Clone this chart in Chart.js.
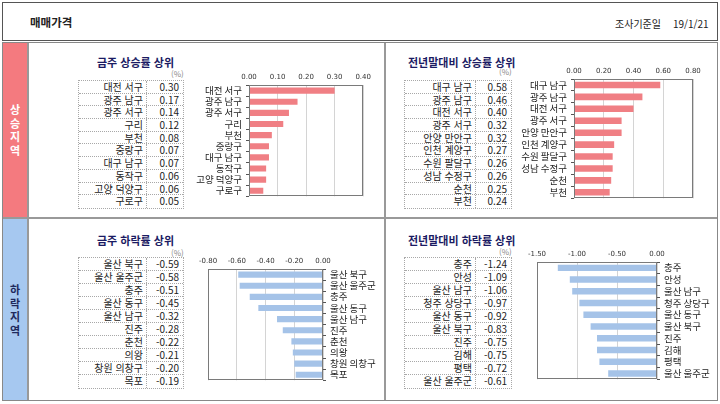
<!DOCTYPE html>
<html lang="ko">
<head>
<meta charset="UTF-8">
<title>매매가격</title>
<script src="https://cdn.jsdelivr.net/npm/chart.js"></script>
<style>
  body { margin: 0; background: #fff; font-family: "Noto Sans CJK KR", sans-serif; color: #222; }
  #page { position: relative; width: 720px; height: 404px; overflow: hidden; background: #fff; }
  .abs { position: absolute; }
  .box { position: absolute; box-sizing: border-box; }
  .title { position: absolute; font-weight: bold; font-size: 11px; color: #1b1b63; line-height: 14px; white-space: nowrap; }
  .unit { position: absolute; font-size: 8px; color: #888; line-height: 10px; }
  .side { position: absolute; width: 24px; text-align: center; font-weight: bold; font-size: 11px; line-height: 13.5px; }
  .tbl { position: absolute; box-sizing: border-box; border: 1px dotted #a8a8a8; font-size: 10px; }
  .row { display: flex; box-sizing: border-box; border-bottom: 1px dotted #a8a8a8; }
  .row:last-child { border-bottom: none; }
  .row div { box-sizing: border-box; text-align: right; white-space: nowrap; overflow: hidden; }
  .row .lab { border-right: 1px dotted #a8a8a8; padding-right: 3px; }
  .row .val { padding-right: 4px; }
  canvas { position: absolute; }
</style>
</head>
<body>
<div id="page">
  <!-- 머리글 -->
  <div class="box" style="left:2px;top:2px;width:716px;height:39px;border:1px solid #555;"></div>
  <div class="abs" style="left:30px;top:14px;font-weight:bold;font-size:11.5px;">매매가격</div>
  <div class="abs" style="left:615px;top:16px;font-size:10px;">조사기준일</div>
  <div class="abs" style="left:673px;top:16px;font-size:10px;">19/1/21</div>

  <!-- 본문 틀 -->
  <div class="box" style="left:2px;top:42px;width:716px;height:359px;border:1px solid #888;"></div>
  <div class="box" style="left:3px;top:43px;width:24px;height:174px;background:#f47a7f;"></div>
  <div class="box" style="left:3px;top:219px;width:24px;height:181px;background:#a6c8f0;"></div>
  <div class="box" style="left:27px;top:43px;width:2px;height:357px;background:#999;"></div>
  <div class="box" style="left:3px;top:217px;width:714px;height:2px;background:#999;"></div>
  <div class="box" style="left:384px;top:43px;width:2px;height:357px;background:#999;"></div>
  <div class="side" style="left:3px;top:103px;color:#fff;">상<br>승<br>지<br>역</div>
  <div class="side" style="left:3px;top:283px;color:#1f2a5c;">하<br>락<br>지<br>역</div>

  <!-- 패널 제목 -->
  <div class="title" style="left:97px;top:55px;">금주 상승률 상위</div>
  <div class="title" style="left:408px;top:55px;">전년말대비 상승률 상위</div>
  <div class="title" style="left:97px;top:233px;">금주 하락률 상위</div>
  <div class="title" style="left:408px;top:233px;">전년말대비 하락률 상위</div>
  <div class="unit" style="left:171px;top:69px;">(%)</div>
  <div class="unit" style="left:499px;top:67px;">(%)</div>
  <div class="unit" style="left:171px;top:248px;">(%)</div>
  <div class="unit" style="left:499px;top:247px;">(%)</div>

  <div id="t1" class="tbl" style="left:78px;top:80px;width:106px;"></div>
  <div id="t2" class="tbl" style="left:404px;top:80px;width:108px;"></div>
  <div id="t3" class="tbl" style="left:78px;top:257px;width:106px;"></div>
  <div id="t4" class="tbl" style="left:404px;top:257px;width:108px;"></div>

  <canvas id="c1" width="190" height="140" style="left:185px;top:66px;"></canvas>
  <canvas id="c2" width="200" height="148" style="left:505px;top:60px;"></canvas>
  <canvas id="c3" width="188" height="140" style="left:195px;top:250px;"></canvas>
  <canvas id="c4" width="195" height="146" style="left:520px;top:243px;"></canvas>
</div>

<script>
  // 금주 상승률 상위
  var upWeekLabels = ["대전 서구", "광주 남구", "광주 서구", "구리", "부천", "중랑구", "대구 남구", "동작구", "고양 덕양구", "구로구"];
  var upWeekValues = [0.30, 0.17, 0.14, 0.12, 0.08, 0.07, 0.07, 0.06, 0.06, 0.05];
  var upWeekTicks = [0.00, 0.40, 0.10]; // min, max, step

  // 전년말대비 상승률 상위
  var upYearLabels = ["대구 남구", "광주 남구", "대전 서구", "광주 서구", "안양 만안구", "인천 계양구", "수원 팔달구", "성남 수정구", "순천", "부천"];
  var upYearValues = [0.58, 0.46, 0.40, 0.32, 0.32, 0.27, 0.26, 0.26, 0.25, 0.24];
  var upYearTicks = [0.00, 0.80, 0.20];

  // 금주 하락률 상위
  var downWeekLabels = ["울산 북구", "울산 울주군", "충주", "울산 동구", "울산 남구", "진주", "춘천", "의왕", "창원 의창구", "목포"];
  var downWeekValues = [-0.59, -0.58, -0.51, -0.45, -0.32, -0.28, -0.22, -0.21, -0.20, -0.19];
  var downWeekTicks = [-0.80, 0.00, 0.20];

  // 전년말대비 하락률 상위
  var downYearLabels = ["충주", "안성", "울산 남구", "청주 상당구", "울산 동구", "울산 북구", "진주", "김해", "평택", "울산 울주군"];
  var downYearValues = [-1.24, -1.09, -1.06, -0.97, -0.92, -0.83, -0.75, -0.75, -0.72, -0.61];
  var downYearTicks = [-1.50, 0.00, 0.50];

  // 표 만들기
  function fillTable(id, labels, values, labW, rowH) {
    var el = document.getElementById(id);
    var html = "";
    for (var i = 0; i < labels.length; i++) {
      html += '<div class="row" style="height:' + rowH + 'px;line-height:' + (rowH - 1) + 'px">' +
        '<div class="lab" style="width:' + labW + 'px">' + labels[i] + '</div>' +
        '<div class="val" style="flex:1">' + values[i].toFixed(2) + '</div></div>';
    }
    el.innerHTML = html;
  }
  fillTable("t1", upWeekLabels, upWeekValues, 68, 12.7);
  fillTable("t2", upYearLabels, upYearValues, 71, 12.7);
  fillTable("t3", downWeekLabels, downWeekValues, 68, 13);
  fillTable("t4", downYearLabels, downYearValues, 71, 13);

  // 플롯 영역 테두리
  var plotFrame = {
    id: 'plotFrame',
    afterDraw: function (chart) {
      var a = chart.chartArea, c = chart.ctx;
      c.save();
      c.strokeStyle = '#7a7a7a';
      c.lineWidth = 1;
      c.strokeRect(Math.round(a.left) + 0.5, Math.round(a.top) + 0.5,
        Math.round(a.right - a.left) - 1, Math.round(a.bottom - a.top) - 1);
      c.restore();
    }
  };

  function makeBarChart(id, labels, values, ticks, color, side, yWidth, pad) {
    var ctx = document.getElementById(id).getContext("2d");
    return new Chart(ctx, {
      type: 'bar',
      data: {
        labels: labels,
        datasets: [{
          data: values,
          backgroundColor: color,
          borderWidth: 0,
          barPercentage: 0.55,
          categoryPercentage: 1
        }]
      },
      options: {
        responsive: false,
        animation: false,
        indexAxis: 'y',
        layout: { autoPadding: false, padding: pad },
        plugins: { legend: { display: false }, tooltip: { enabled: false } },
        scales: {
          x: {
            position: 'top',
            min: ticks[0],
            max: ticks[1],
            ticks: {
              stepSize: ticks[2],
              padding: 4,
              color: '#333',
              font: { family: 'DejaVu Sans', size: 7 },
              callback: function (v) { return Number(v).toFixed(2); }
            },
            grid: { color: '#d4d4d4', drawTicks: false },
            border: { display: false },
            afterFit: function (s) { s.height = 19; }
          },
          y: {
            position: side,
            ticks: {
              padding: 4,
              color: '#222',
              font: { family: 'Noto Sans CJK KR', size: 9.5 },
              autoSkip: false
            },
            grid: { offset: true, drawOnChartArea: false, drawTicks: true, tickLength: 3, color: '#555' },
            border: { display: false },
            afterFit: function (s) { s.width = yWidth; }
          }
        }
      },
      plugins: [plotFrame]
    });
  }

  var redBar = '#f07f84';
  var blueBar = '#a5c3e8';
  makeBarChart("c1", upWeekLabels, upWeekValues, upWeekTicks, redBar, 'left', 64, { left: 0, top: 0, right: 10, bottom: 3 });
  makeBarChart("c2", upYearLabels, upYearValues, upYearTicks, redBar, 'left', 69, { left: 0, top: 0, right: 12, bottom: 3 });
  makeBarChart("c3", downWeekLabels, downWeekValues, downWeekTicks, blueBar, 'right', 60, { left: 13, top: 0, right: 0, bottom: 3 });
  makeBarChart("c4", downYearLabels, downYearValues, downYearTicks, blueBar, 'right', 58, { left: 17, top: 0, right: 0, bottom: 4 });
</script>
</body>
</html>
